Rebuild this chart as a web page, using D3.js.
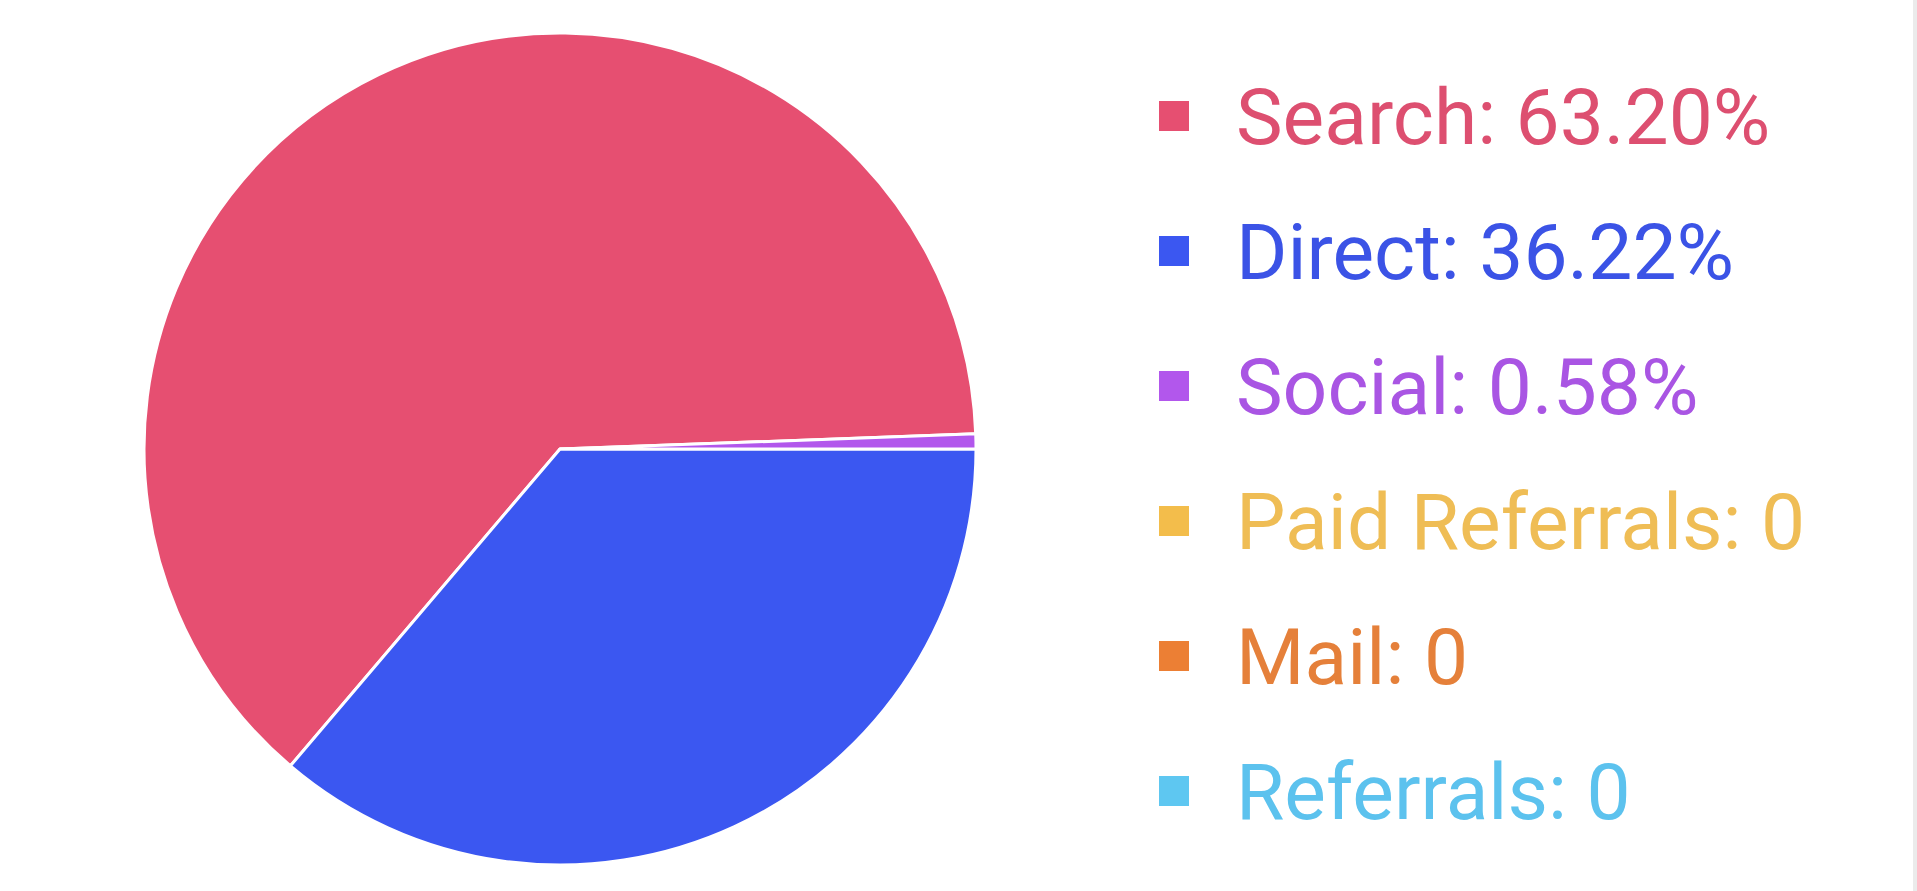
<!DOCTYPE html>
<html>
<head>
<meta charset="utf-8">
<script src="https://cdn.jsdelivr.net/npm/d3@7"></script>
<style>
  html, body { margin: 0; padding: 0; background: #ffffff; overflow: hidden; }
  svg { display: block; }
</style>
</head>
<body>
<svg id="chart" width="1917" height="891"></svg>
<script>
// ---- data ----
const categories = ["Search", "Direct", "Social", "Paid Referrals", "Mail", "Referrals"];
const values = [63.20, 36.22, 0.58, 0, 0, 0];
const colors = ["#e64f71", "#3b57f1", "#b257ec", "#f3bd4b", "#ec7f34", "#5ec7f1"];
const textColors = ["#dd4f70", "#3b53e6", "#a955e3", "#efbd55", "#e5803a", "#5cc2ee"];

// ---- layout ----
const W = 1917, H = 891;
const cx = 560, cy = 449, R = 416;
const svg = d3.select("#chart");

svg.append("rect").attr("x", 0).attr("y", 0).attr("width", W).attr("height", H).attr("fill", "#ffffff");
svg.append("rect").attr("x", W - 4).attr("y", 0).attr("width", 4).attr("height", H).attr("fill", "#ebebeb");

const total = d3.sum(values);
const socialShare = values[2] / total;
const start = Math.PI / 2 - 2 * Math.PI * socialShare;

const pie = d3.pie().sort(null).value(d => d.value)
  .startAngle(start).endAngle(start - 2 * Math.PI);
const arc = d3.arc().innerRadius(0).outerRadius(R);

const data = categories.map((c, i) => ({ name: c, value: values[i], color: colors[i], tcolor: textColors[i] }));

const g = svg.append("g").attr("transform", `translate(${cx},${cy})`);
g.selectAll("path").data(pie(data).filter(d => d.data.value > 0)).join("path")
  .attr("d", arc)
  .attr("fill", d => d.data.color)
  .attr("stroke", "#ffffff")
  .attr("stroke-width", 3)
  .attr("stroke-linejoin", "round");

// ---- legend ----
const rowY = d3.scalePoint().domain(categories).range([116, 791]);
const legend = svg.append("g");
const items = legend.selectAll("g").data(data).join("g")
  .attr("transform", d => `translate(0,${rowY(d.name)})`);
items.append("rect")
  .attr("x", 1159).attr("y", -15).attr("width", 30).attr("height", 30)
  .attr("fill", d => d.color);
items.append("text")
  .attr("x", 1236).attr("y", 0).attr("dy", "0.36em")
  .attr("font-family", "Roboto, 'Liberation Sans', Arial, sans-serif")
  .attr("font-size", 78.5)
  .attr("fill", d => d.tcolor)
  .text(d => `${d.name}: ${d.value > 0 ? d.value.toFixed(2) + "%" : "0"}`);
</script>
</body>
</html>
